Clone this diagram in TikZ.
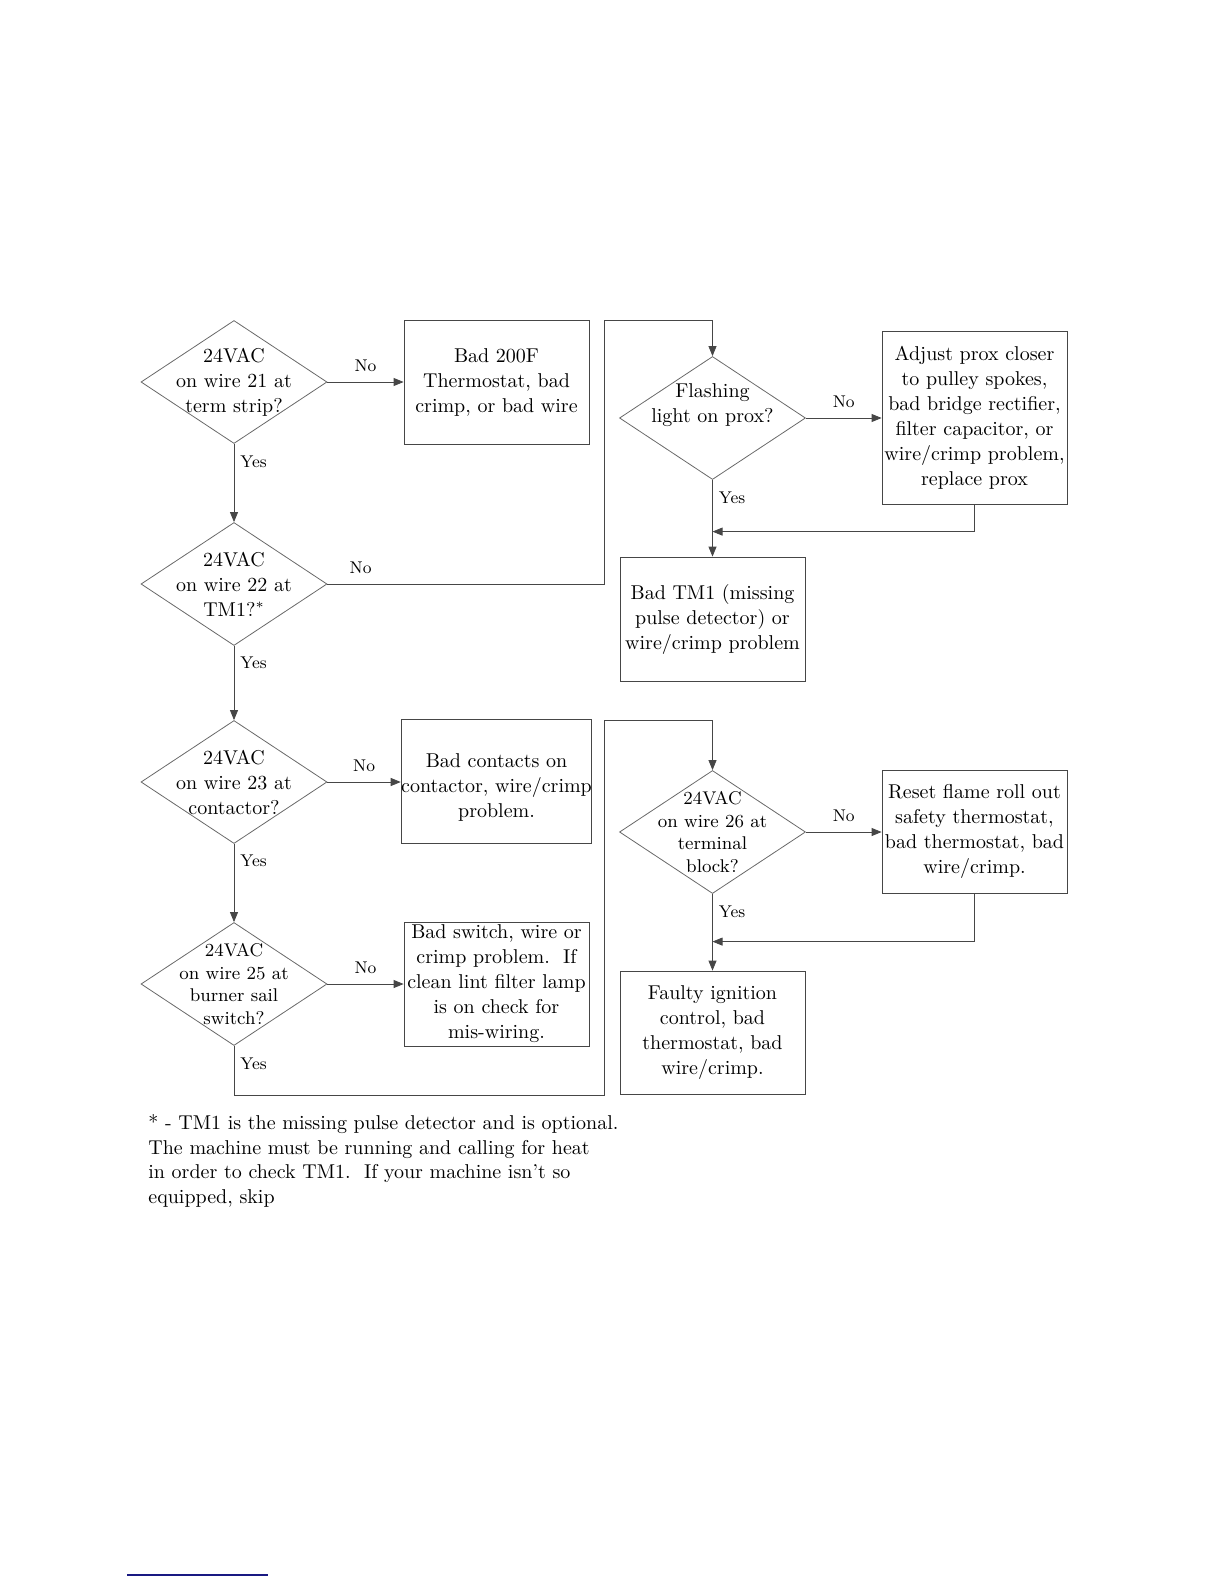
\documentclass[tikz,border=0pt]{standalone}
\usepackage{amsmath}
\usepackage{tikz}
\usetikzlibrary{arrows.meta, shapes}
\definecolor{linegray}{RGB}{70,70,70}
\definecolor{edgegray}{RGB}{105,105,105}
\definecolor{rulenavy}{RGB}{25,25,130}

\begin{document}
\begin{tikzpicture}[x=0.5pt,y=-0.5pt,>={Triangle[length=5pt,width=4pt]},thin,
                    font=\fontsize{10}{12.5}\selectfont]
  \tikzstyle{decision}=[diamond,draw=edgegray,line width=0.4pt,inner sep=0pt,
                        minimum width=93pt,minimum height=61.5pt]
  \tikzstyle{dtext}=[align=center,inner sep=0pt]
  \tikzstyle{small}=[font=\fontsize{9.2}{11.4}\selectfont]
  \tikzstyle{result}=[rectangle,draw=linegray,align=center,inner sep=0pt,
                      minimum width=92.5pt,minimum height=62pt]
  \tikzstyle{lab}=[font=\fontsize{8.5}{10}\selectfont,inner sep=2pt]
  \tikzstyle{wire}=[draw=linegray]

  \useasboundingbox (0,0) rectangle (1224,1584);

  % left column: checks on wires 21 to 25
  \node[decision] (Q21) at (234,382) {};
  \node[dtext]    (Q21t) at (Q21) {24VAC\\on wire 21 at\\term strip?};
  \node[result]   (R200F) at (496.5,382) {Bad 200F\\Thermostat, bad\\crimp, or bad wire};

  \node[decision] (Q22) at (234,584) {};
  \node[dtext]    (Q22t) at (Q22) {24VAC\\on wire 22 at\\TM1?$^*$};

  \node[decision] (Q23) at (234,782) {};
  \node[dtext]    (Q23t) at (Q23) {24VAC\\on wire 23 at\\contactor?};
  \node[result]   (Rcont) at (496.5,781.5) {\mbox{}\\Bad contacts on\\contactor, wire/crimp\\problem.};

  \node[decision] (Q25) at (234,984) {};
  \node[dtext,small] (Q25t) at (Q25) {24VAC\\on wire 25 at\\burner sail\\switch?};
  \node[result]   (Rsail) at (496.5,984) {Bad switch, wire or\\crimp problem.\ \ If\\clean lint filter lamp\\is on check for\\mis-wiring.};

  % right column: prox and wire 26
  \node[decision] (Qprox) at (712.5,418) {};
  \node[dtext]    (Qproxt) at ([yshift=6.25pt]Qprox.center) {Flashing\\light on prox?};
  \node[result, minimum height=86.5pt] (Rprox) at (974.5,417.5) {Adjust prox closer\\to pulley spokes,\\bad bridge rectifier,\\filter capacitor, or\\wire/crimp problem,\\replace prox};
  \node[result]   (RTM1) at (712.5,619) {Bad TM1 (missing\\pulse detector) or\\wire/crimp problem};

  \node[decision] (Q26) at (712.5,832) {};
  \node[dtext,small] (Q26t) at (Q26) {24VAC\\on wire 26 at\\terminal\\block?};
  \node[result, minimum height=61.5pt] (Rflame) at (974.5,831.5) {Reset flame roll out\\safety thermostat,\\bad thermostat, bad\\wire/crimp.};
  \node[result, minimum height=61.5pt] (Rign) at (712.5,1032.5) {Faulty ignition\\control, bad\\thermostat, bad\\wire/crimp.};

  \coordinate (up1) at (604,320);
  \coordinate (up2) at (604,720);
  \coordinate (low2) at (604,1095);

  % connectors
  \draw[->,wire] (Q21.east) -- node[lab,above=3pt]{No} (R200F.west);
  \draw[->,wire] (Q21.south) -- node[lab,right=1pt,pos=0.23]{Yes} (Q22.north);
  \draw[->,wire] (Q22.east) -- node[lab,above=3pt,pos=0.12]{No} (Q22.east -| up1) -- (up1) -| (Qprox.north);
  \draw[->,wire] (Qprox.east) -- node[lab,above=3pt]{No} (Qprox.east -| Rprox.west);
  \draw[->,wire] (Qprox.south) -- node[lab,right=1pt,pos=0.23]{Yes} (RTM1.north);
  \draw[->,wire] (Rprox.south) |- ([yshift=12.5pt]RTM1.north);
  \draw[->,wire] (Q22.south) -- node[lab,right=1pt,pos=0.23]{Yes} (Q23.north);
  \draw[->,wire] (Q23.east) -- node[lab,above=3pt]{No} (Q23.east -| Rcont.west);
  \draw[->,wire] (Q23.south) -- node[lab,right=1pt,pos=0.22]{Yes} (Q25.north);
  \draw[->,wire] (Q25.east) -- node[lab,above=3pt]{No} (Rsail.west);
  \draw[->,wire] (Q25.south) -- node[lab,right=1pt,pos=0.36]{Yes} (Q25.south |- low2) -- (low2) -- (up2) -| (Q26.north);
  \draw[->,wire] (Q26.east) -- node[lab,above=3pt]{No} (Q26.east -| Rflame.west);
  \draw[->,wire] (Q26.south) -- node[lab,right=1pt,pos=0.23]{Yes} (Rign.north);
  \draw[->,wire] (Rflame.south) |- ([yshift=14.5pt]Rign.north);

  % footnote
  \node[anchor=north west,align=left,inner sep=0pt,font=\fontsize{10}{12.35}\selectfont] (note) at (148,1114)
    {* - TM1 is the missing pulse detector and is optional.\\The machine must be running and calling for heat\\in order to check TM1.\ \ If your machine isn't so\\equipped, skip};

  \draw[rulenavy,line width=1pt] (127,1575) -- (268,1575);
\end{tikzpicture}
\end{document}
